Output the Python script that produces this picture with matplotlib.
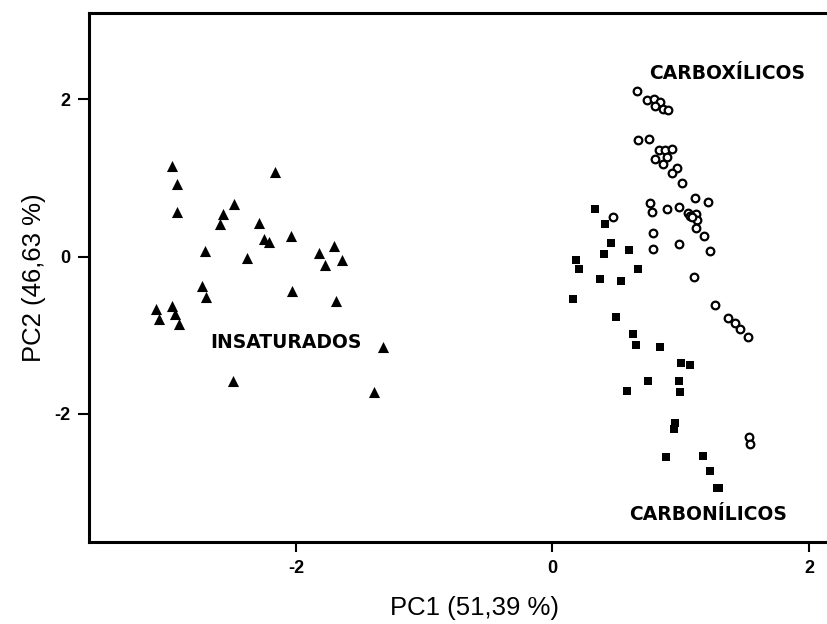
import matplotlib
matplotlib.use("Agg")
import matplotlib.pyplot as plt

# Insaturados (triangles)
ins_x = [-2.97, -2.93, -2.93, -2.16, -2.48, -2.57, -2.59, -2.29, -2.25, -2.21,
         -2.04, -2.71, -2.38, -1.82, -1.70, -1.77, -1.64, -2.73, -2.70, -2.03,
         -1.69, -3.09, -3.07, -2.97, -2.94, -2.91, -1.32, -2.49, -1.39]
ins_y = [1.15, 0.92, 0.56, 1.07, 0.67, 0.545, 0.41, 0.42, 0.22, 0.18,
         0.26, 0.07, -0.015, 0.04, 0.13, -0.11, -0.05, -0.38, -0.51, -0.435,
         -0.57, -0.67, -0.80, -0.63, -0.73, -0.855, -1.155, -1.59, -1.73]

# Carboxilicos (open circles)
cbx_x = [0.656, 0.739, 0.79, 0.84, 0.80, 0.86, 0.90, 0.667, 0.75, 0.83,
         0.877, 0.934, 0.89, 0.80, 0.864, 0.968, 0.93, 1.007, 1.109, 1.21,
         0.758, 0.773, 0.89, 0.99, 1.054, 1.072, 1.117, 1.13, 1.09, 1.119,
         1.179, 0.469, 0.786, 0.786, 0.984, 1.228, 1.103, 1.265, 1.366, 1.423,
         1.462, 1.524, 1.53, 1.54]
cbx_y = [2.11, 1.99, 2.01, 1.97, 1.91, 1.88, 1.86, 1.48, 1.50, 1.35,
         1.355, 1.37, 1.27, 1.24, 1.18, 1.13, 1.06, 0.94, 0.75, 0.69,
         0.68, 0.56, 0.61, 0.63, 0.55, 0.515, 0.54, 0.46, 0.50, 0.36,
         0.265, 0.50, 0.30, 0.095, 0.155, 0.074, -0.265, -0.62, -0.78, -0.84,
         -0.92, -1.02, -2.30, -2.39]

# Carbonilicos (filled squares)
cbn_x = [0.334, 0.412, 0.46, 0.40, 0.594, 0.183, 0.207, 0.667, 0.37, 0.537,
         0.157, 0.495, 0.625, 0.649, 0.836, 1.005, 1.072, 0.745, 0.984, 0.583,
         0.994, 0.953, 0.947, 0.883, 1.176, 1.23, 1.28, 1.30]
cbn_y = [0.60, 0.41, 0.17, 0.03, 0.08, -0.04, -0.16, -0.16, -0.28, -0.31,
         -0.54, -0.77, -0.98, -1.13, -1.155, -1.36, -1.385, -1.58, -1.59, -1.71,
         -1.72, -2.12, -2.19, -2.55, -2.54, -2.725, -2.94, -2.94]

xticks = [-2, 0, 2]
yticks = [-2, 0, 2]
xlabel = "PC1 (51,39 %)"
ylabel = "PC2 (46,63 %)"
group_labels = ["INSATURADOS", "CARBOXÍLICOS", "CARBONÍLICOS"]

W, H = 827, 624
fig = plt.figure(figsize=(W / 100, H / 100), dpi=100)
left = 88.5 / W
bottom = 1 - 541.5 / H
top = 1 - 13.3 / H
right_px = 860
ax = fig.add_axes([left, bottom, (right_px - 88.5) / W, top - bottom])

ax.set_xlim((88.5 - 552.5) / 128.25, (right_px - 552.5) / 128.25)
ax.set_ylim((256.5 - 541.5) / 78.6, (256.5 - 13.3) / 78.6)

ax.scatter(ins_x, ins_y, marker='^', s=8**2, c='black', linewidths=0, zorder=3)
ax.scatter(cbx_x, cbx_y, marker='o', s=5.5**2, facecolors='white',
           edgecolors='black', linewidths=1.6, zorder=3)
ax.scatter(cbn_x, cbn_y, marker='s', s=6.3**2, c='black', linewidths=0, zorder=3)

lab_font = dict(family='DejaVu Sans', fontweight='bold', fontsize=13.5,
                ha='center', va='center', color='black')
ax.text(-2.08, -1.10, group_labels[0], **lab_font)
ax.text(1.36, 2.33, group_labels[1], **lab_font)
ax.text(1.21, -3.28, group_labels[2], **lab_font)

for s in ['left', 'top', 'bottom']:
    ax.spines[s].set_linewidth(2.2)
ax.spines['right'].set_visible(False)

ax.set_xticks(xticks)
ax.set_yticks(yticks)
ax.set_xticklabels([str(v) for v in xticks])
ax.set_yticklabels([str(v) for v in yticks])
ax.tick_params(axis='x', direction='out', length=7, width=1.5, pad=6)
ax.tick_params(axis='y', direction='out', length=8, width=1.5, pad=5)
for t in ax.get_xticklabels() + ax.get_yticklabels():
    t.set_fontfamily('Liberation Sans')
    t.set_fontweight('bold')
    t.set_fontsize(13)

ax.set_xlabel(xlabel, fontfamily='Liberation Sans', fontsize=18.5, labelpad=14)
ax.set_ylabel(ylabel, fontfamily='Liberation Sans', fontsize=18.5, labelpad=6)

fig.savefig("out.png", dpi=100)
